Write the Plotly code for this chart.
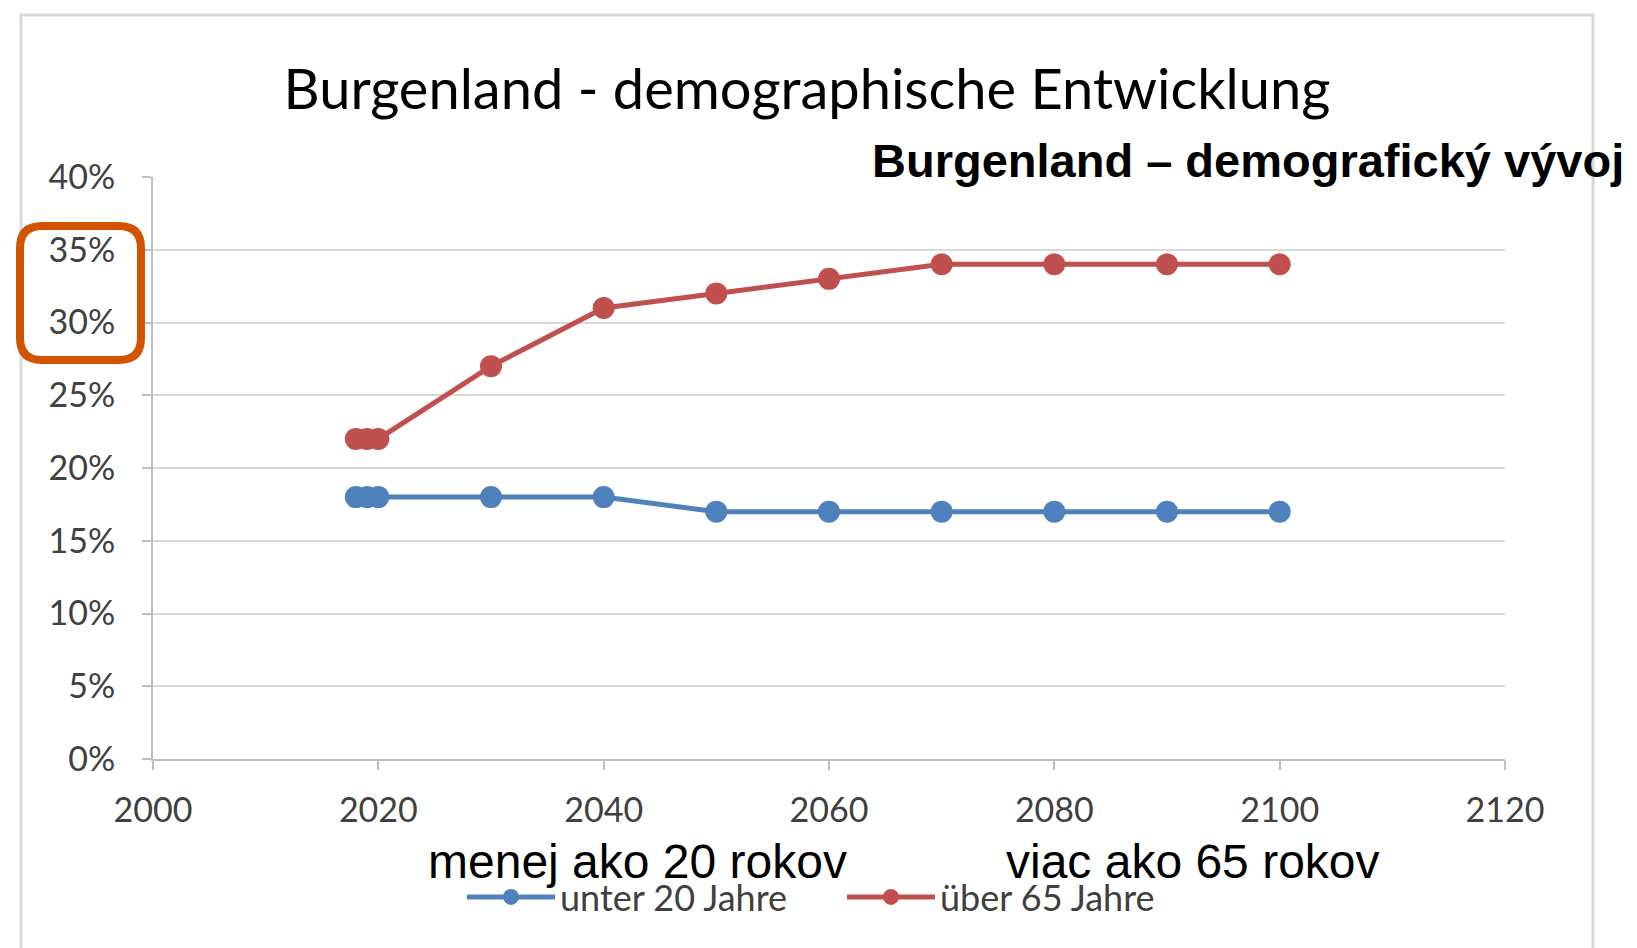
import plotly.graph_objects as go

# ---- data ----
years = [2018, 2019, 2020, 2030, 2040, 2050, 2060, 2070, 2080, 2090, 2100]
under20 = [0.18, 0.18, 0.18, 0.18, 0.18, 0.17, 0.17, 0.17, 0.17, 0.17, 0.17]
over65 = [0.22, 0.22, 0.22, 0.27, 0.31, 0.32, 0.33, 0.34, 0.34, 0.34, 0.34]
series_names = ["unter 20 Jahre", "über 65 Jahre"]
title_de = "Burgenland - demographische Entwicklung"
title_sk = "Burgenland – demografický vývoj"
label_sk_under = "menej ako 20 rokov"
label_sk_over = "viac ako 65 rokov"

W, H = 1637, 948
L, R, T, B = 145, 1497, 169, 751  # plot area in px


def px(xp):
    return (xp - L) / (R - L)


def py(yp):
    return (B - yp) / (B - T)


BLUE = "#4f81bd"
RED = "#c0504d"
FONT = "Lato, 'Open Sans', sans-serif"
ARIAL = "Liberation Sans, Arial, sans-serif"

fig = go.Figure()
fig.add_trace(go.Scatter(x=years, y=under20, name=series_names[0], mode="lines+markers",
                         line=dict(color=BLUE, width=5), marker=dict(color=BLUE, size=22),
                         cliponaxis=False))
fig.add_trace(go.Scatter(x=years, y=over65, name=series_names[1], mode="lines+markers",
                         line=dict(color=RED, width=5), marker=dict(color=RED, size=22),
                         cliponaxis=False))

axis_common = dict(showline=True, linecolor="#bfbfbf", linewidth=2, ticks="outside",
                   tickcolor="#bfbfbf", ticklen=9, tickwidth=2,
                   tickfont=dict(family=FONT, size=34, color="#404040"), zeroline=False)

fig.update_xaxes(range=[2000, 2120], dtick=20, tick0=2000, showgrid=False,
                 ticklabelstandoff=11, **axis_common)
fig.update_yaxes(range=[0, 0.4], dtick=0.05, tick0=0, tickformat=".0%", showgrid=True,
                 gridcolor="#d9d9d9", gridwidth=2, ticklabelstandoff=20, **axis_common)

# rounded rectangle highlight (x: 12..133, y: 218..352 px)
x0, x1, y0, y1, rr = 12, 133, 218, 352, 22
pth = (f"M{px(x0+rr)},{py(y0)} L{px(x1-rr)},{py(y0)} Q{px(x1)},{py(y0)} {px(x1)},{py(y0+rr)} "
       f"L{px(x1)},{py(y1-rr)} Q{px(x1)},{py(y1)} {px(x1-rr)},{py(y1)} "
       f"L{px(x0+rr)},{py(y1)} Q{px(x0)},{py(y1)} {px(x0)},{py(y1-rr)} "
       f"L{px(x0)},{py(y0+rr)} Q{px(x0)},{py(y0)} {px(x0+rr)},{py(y0)} Z")

fig.update_layout(
    width=W, height=H,
    margin=dict(l=L, r=W - R, t=T, b=H - B, pad=0),
    paper_bgcolor="white", plot_bgcolor="white",
    title=dict(text=title_de, x=799 / W, xanchor="center", xref="container",
               y=1 - 81 / H, yanchor="middle", yref="container",
               font=dict(family=FONT, size=56, color="#000000")),
    showlegend=True,
    legend=dict(orientation="h", x=px(454), xanchor="left", y=py(889), yanchor="middle",
                font=dict(family=FONT, size=36, color="#404040"), bgcolor="rgba(0,0,0,0)",
                entrywidth=277, entrywidthmode="pixels", itemwidth=88),
    shapes=[
        dict(type="rect", xref="paper", yref="paper", x0=px(13), x1=px(1585), y0=py(7), y1=py(960),
             line=dict(color="#d9d9d9", width=3), layer="below"),
        dict(type="path", xref="paper", yref="paper", path=pth,
             line=dict(color="#d35400", width=8)),
    ],
    annotations=[
        dict(text=f"<b>{title_sk}</b>", xref="paper", yref="paper", x=px(1240), y=py(152),
             showarrow=False, xanchor="center", yanchor="middle",
             font=dict(family=ARIAL, size=47, color="#000000")),
        dict(text=label_sk_under, xref="paper", yref="paper",
             x=px(629), y=py(853), showarrow=False, xanchor="center", yanchor="middle",
             font=dict(family=ARIAL, size=48, color="#000000")),
        dict(text=label_sk_over, xref="paper", yref="paper",
             x=px(1185), y=py(853), showarrow=False, xanchor="center", yanchor="middle",
             font=dict(family=ARIAL, size=48, color="#000000")),
    ],
)

fig.write_html("out.html")
